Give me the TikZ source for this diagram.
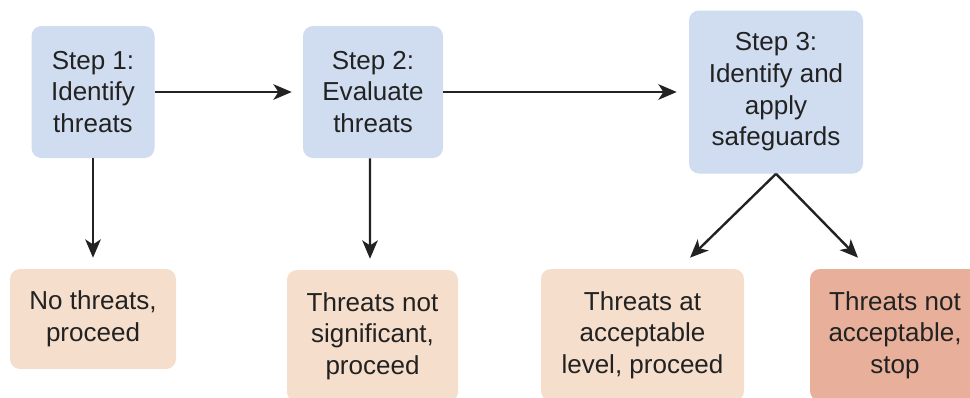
\documentclass[tikz,border=0pt]{standalone}
\usepackage{fontspec}
\setmainfont{Liberation Sans}
\usetikzlibrary{arrows.meta, positioning}
\definecolor{stepblue}{HTML}{D0DCEF}
\definecolor{okpeach}{HTML}{F5DECB}
\definecolor{stopred}{HTML}{E8B09A}
\definecolor{inkgray}{HTML}{222222}
\tikzstyle{stepbox} = [rectangle, rounded corners=0.25cm, minimum height=3.3cm, inner sep=0pt, align=center, fill=stepblue, text=inkgray, font=\fontsize{18.5}{22.5}\selectfont]
\tikzstyle{okbox} = [rectangle, rounded corners=0.25cm, minimum height=3.3cm, inner sep=0pt, align=center, fill=okpeach, text=inkgray, font=\fontsize{18.5}{22.5}\selectfont]
\tikzstyle{stopbox} = [okbox, fill=stopred]
\tikzstyle{arrow} = [line width=1.7pt, draw=inkgray, -{Stealth[length=13pt, width=11pt, inset=3.5pt]}]
\begin{document}
\begin{tikzpicture}[node distance=7cm]

    \clip (0,0) rectangle (24.25,-9.925);

    % Nodes
    \node (step1) [stepbox, minimum width=3.075cm] at (2.325,-2.3) {Step 1:\\Identify\\threats};
    \node (step2) [stepbox, right of=step1, minimum width=3.5cm] {Step 2:\\Evaluate\\threats};
    \node (step3) [stepbox, right of=step2, xshift=3.075cm, minimum width=4.35cm, minimum height=4.075cm] {Step 3:\\Identify and\\apply\\safeguards};
    \node (nothreat) [okbox, below of=step1, yshift=1.325cm, minimum width=4.15cm, minimum height=2.5cm] {No threats,\\proceed};
    \node (notsig) [okbox, below of=step2, xshift=-0.0125cm, yshift=0.9cm, minimum width=4.275cm] {Threats not\\significant,\\proceed};
    \node (acceptable) [okbox, below of=step3, xshift=-3.3375cm, yshift=0.925cm, minimum width=5.075cm] {Threats at\\acceptable\\level, proceed};
    \node (notacceptable) [stopbox, below of=step3, xshift=2.975cm, yshift=0.925cm, minimum width=4.25cm] {Threats not\\acceptable,\\stop};

    % Arrows
    \draw [arrow, shorten >=0.275cm] (step1) -- (step2);
    \draw [arrow, shorten >=0.3cm] (step2) -- (step3);
    \draw [arrow, shorten >=0.275cm] (step1) -- (nothreat);
    \draw [arrow, shorten >=0.275cm] ([xshift=-0.075cm]step2.south) -- ([xshift=-0.0625cm]notsig.north);
    \draw [arrow] (step3.south) -- ([xshift=1.1875cm, yshift=0.275cm]acceptable.north);
    \draw [arrow] (step3.south) -- ([xshift=-0.925cm, yshift=0.275cm]notacceptable.north);

\end{tikzpicture}
\end{document}
